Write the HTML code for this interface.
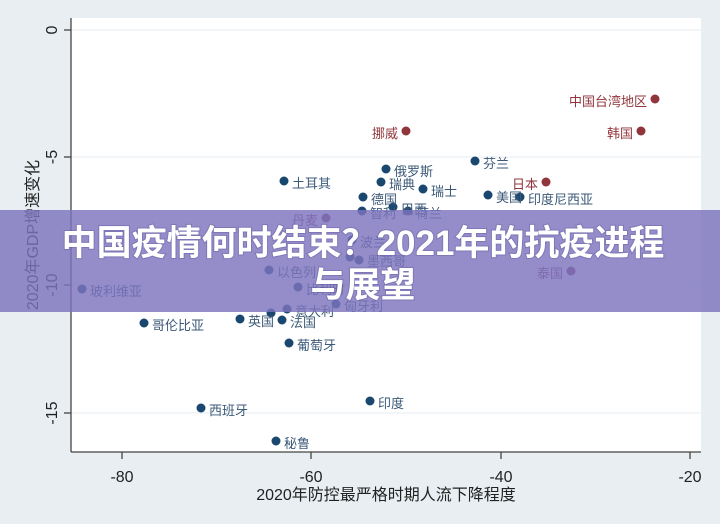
<!DOCTYPE html>
<html><head><meta charset="utf-8">
<style>
html,body{margin:0;padding:0;background:#e8eef1;}
svg{display:block}
.l{font-family:"Liberation Sans","Noto Sans CJK SC",sans-serif;font-size:13px;}
.b{fill:#1a476f}.bt{fill:#3c5a78}
.r{fill:#90353b}.rt{fill:#90353b}
.t{font-family:"Liberation Sans","Noto Sans CJK SC",sans-serif;font-size:16px;fill:#222}
</style></head><body>
<svg width="720" height="524" viewBox="0 0 720 524">
<rect x="0" y="0" width="720" height="524" fill="#e8eef1"/>
<rect x="71" y="18" width="630" height="434" fill="#fff"/>
<g stroke="#eaf0f3" stroke-width="1.2">
<line x1="71" y1="30" x2="701" y2="30"/><line x1="71" y1="157" x2="701" y2="157"/>
<line x1="71" y1="285" x2="701" y2="285"/><line x1="71" y1="413" x2="701" y2="413"/>
</g>
<g stroke="#444" stroke-width="1.3">
<line x1="71" y1="18" x2="71" y2="452"/><line x1="71" y1="452" x2="701" y2="452"/>
<line x1="64" y1="30" x2="71" y2="30"/><line x1="64" y1="157" x2="71" y2="157"/>
<line x1="64" y1="285" x2="71" y2="285"/><line x1="64" y1="413" x2="71" y2="413"/>
<line x1="122" y1="452" x2="122" y2="459"/><line x1="311" y1="452" x2="311" y2="459"/>
<line x1="501" y1="452" x2="501" y2="459"/><line x1="690" y1="452" x2="690" y2="459"/>
</g>
<g class="t" text-anchor="middle">
<text transform="translate(57,30) rotate(-90)">0</text>
<text transform="translate(57,157) rotate(-90)">-5</text>
<text transform="translate(57,285) rotate(-90)">-10</text>
<text transform="translate(57,413) rotate(-90)">-15</text>
<text x="122" y="482">-80</text><text x="311" y="482">-60</text>
<text x="501" y="482">-40</text><text x="690" y="482">-20</text>
<text x="386" y="500">2020年防控最严格时期人流下降程度</text>
<text transform="translate(38,235) rotate(-90)">2020年GDP增速变化</text>
</g>
<g class="l">
<circle class="r" cx="655" cy="99" r="4.5"/><text class="rt" x="647" y="106" text-anchor="end">中国台湾地区</text>
<circle class="r" cx="406" cy="131" r="4.5"/><text class="rt" x="398" y="138" text-anchor="end">挪威</text>
<circle class="r" cx="641" cy="131" r="4.5"/><text class="rt" x="633" y="138" text-anchor="end">韩国</text>
<circle class="r" cx="546" cy="182" r="4.5"/><text class="rt" x="538" y="189" text-anchor="end">日本</text>
<circle cx="326" cy="218" r="4.5" fill="#8b3a6b"/><text fill="#8b3a6b" x="318" y="225" text-anchor="end">丹麦</text>
<circle cx="571" cy="271" r="4.5" fill="#8b3a6b"/><text fill="#8b3a6b" x="563" y="278" text-anchor="end">泰国</text>
<g class="b">
<circle cx="475" cy="161" r="4.5"/><circle cx="386" cy="169" r="4.5"/><circle cx="284" cy="181" r="4.5"/>
<circle cx="381" cy="182" r="4.5"/><circle cx="423" cy="189" r="4.5"/><circle cx="488" cy="195" r="4.5"/>
<circle cx="520" cy="197" r="4.5"/><circle cx="363" cy="197" r="4.5"/><circle cx="362" cy="211" r="4.5"/>
<circle cx="393" cy="207" r="4.5"/><circle cx="408" cy="211" r="4.5"/><circle cx="352" cy="240" r="4.5"/>
<circle cx="350" cy="257" r="4.5"/><circle cx="359" cy="260" r="4.5"/><circle cx="269" cy="270" r="4.5"/>
<circle cx="298" cy="287" r="4.5"/><circle cx="336" cy="304" r="4.5"/><circle cx="287" cy="309" r="4.5"/>
<circle cx="271" cy="313" r="4.5"/><circle cx="240" cy="319" r="4.5"/><circle cx="282" cy="320" r="4.5"/>
<circle cx="289" cy="343" r="4.5"/><circle cx="82" cy="289" r="4.5"/><circle cx="144" cy="323" r="4.5"/>
<circle cx="201" cy="408" r="4.5"/><circle cx="370" cy="401" r="4.5"/><circle cx="276" cy="441" r="4.5"/>
</g>
<g class="bt">
<text x="483" y="168">芬兰</text><text x="394" y="176">俄罗斯</text><text x="292" y="188">土耳其</text>
<text x="389" y="189">瑞典</text><text x="431" y="196">瑞士</text><text x="496" y="202">美国</text>
<text x="528" y="204">印度尼西亚</text><text x="371" y="204">德国</text><text x="370" y="218">智利</text>
<text x="401" y="214">巴西</text><text x="416" y="218">荷兰</text><text x="360" y="247">波兰</text>
<text x="367" y="266">墨西哥</text><text x="277" y="277">以色列</text><text x="306" y="294">比利时</text>
<text x="344" y="311">匈牙利</text><text x="295" y="316">意大利</text><text x="248" y="326">英国</text>
<text x="290" y="327">法国</text><text x="297" y="350">葡萄牙</text><text x="90" y="296">玻利维亚</text>
<text x="152" y="330">哥伦比亚</text><text x="209" y="415">西班牙</text><text x="378" y="408">印度</text>
<text x="284" y="448">秘鲁</text>
</g>
</g>
<rect x="0" y="210" width="720" height="102" fill="#7d74bd" fill-opacity="0.82"/>
<g font-family="'Liberation Sans','Noto Sans CJK SC',sans-serif" font-weight="bold" font-size="35" fill="#fff" text-anchor="middle" style="paint-order:stroke" stroke="rgba(80,70,140,0.3)" stroke-width="2">
<text x="363" y="255">中国疫情何时结束？2021年的抗疫进程</text>
<text x="363" y="297">与展望</text>
</g>
</svg>
</body></html>
